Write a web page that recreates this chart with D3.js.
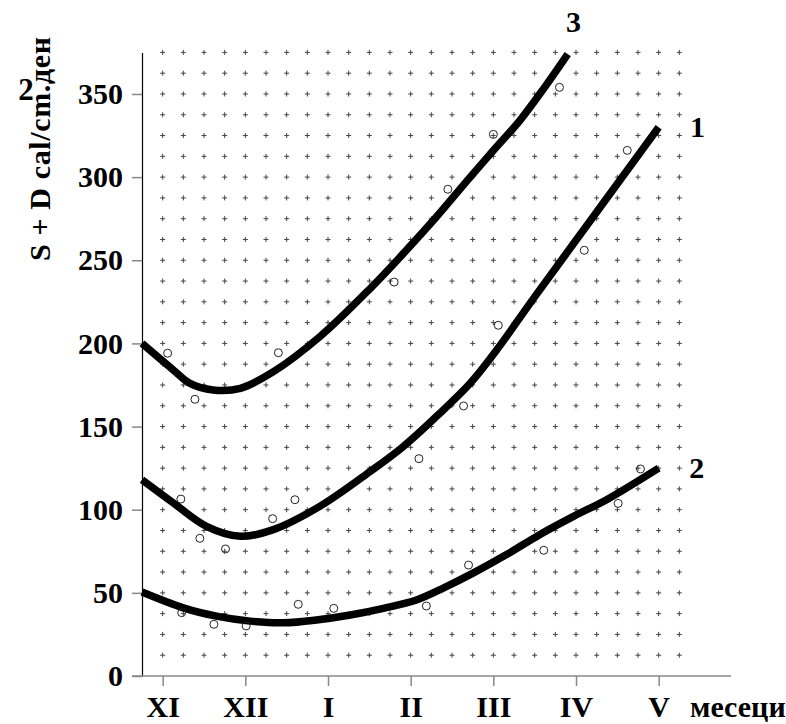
<!DOCTYPE html>
<html>
<head>
<meta charset="utf-8">
<script src="https://cdn.jsdelivr.net/npm/d3@7.9.0/dist/d3.min.js"></script>
<style>
  body { margin: 0; background: #fff; }
  svg text { font-family: 'Liberation Serif', 'Times New Roman', 'DejaVu Serif', serif !important; font-weight: bold; fill: #000; }
</style>
</head>
<body>
<div id="chart"></div>
<script>
const months = ['XI', 'XII', 'I', 'II', 'III', 'IV', 'V'];
const yTicks = [0, 50, 100, 150, 200, 250, 300, 350];

// smoothed curves, [month index, value]
const curve1 = [[-0.25, 118], [0.13, 104], [0.53, 90], [0.94, 84], [1.34, 88], [1.9, 102], [2.51, 123],
  [2.91, 138], [3.31, 156], [3.72, 176], [4.04, 196], [4.5, 228], [5.0, 262], [5.5, 296], [6.0, 330]];
const curve2 = [[-0.25, 50.5], [0.25, 41], [0.65, 36], [1.06, 33], [1.46, 32], [1.86, 33.7], [2.27, 36.7],
  [2.67, 40.7], [3.07, 45.7], [3.4, 53], [3.76, 62], [4.16, 73], [4.56, 85], [4.97, 96], [5.37, 106], [6.0, 125]];
const curve3 = [[-0.25, 200], [0.13, 184], [0.33, 176], [0.61, 172], [0.94, 173], [1.34, 183], [1.9, 204],
  [2.51, 233], [2.91, 254], [3.31, 276], [3.72, 300], [4.0, 316], [4.32, 334], [4.62, 354], [4.9, 374]];

// observed points
const obs1 = [[0.22, 106.4], [0.45, 82.8], [0.76, 76.4], [1.33, 94.6], [1.6, 106], [3.1, 130.7],
  [3.64, 162.4], [4.06, 210.9], [5.1, 256], [5.62, 316.1]];
const obs2 = [[0.23, 38.1], [0.62, 31.1], [1.01, 30.1], [1.64, 43.1], [2.07, 40.7], [3.19, 42.1],
  [3.7, 66.7], [4.61, 75.6], [5.51, 103.8], [5.78, 124.5]];
const obs3 = [[0.06, 194.1], [0.39, 166.4], [1.4, 194.4], [2.8, 236.9], [3.45, 292.7], [4.0, 325.7], [4.8, 354]];

const curveLabels = ['1', '2', '3'];

const width = 786, height = 724;
const svg = d3.select('#chart').append('svg')
  .attr('width', width).attr('height', height)
  .attr('viewBox', `0 0 ${width} ${height}`);

const x = d3.scaleLinear().domain([-0.25, 6.875]).range([142, 731]);
const y = d3.scaleLinear().domain([0, 375]).range([676, 52.4]);

// dotted grid of small crosses
const gridX = d3.range(0, 6.26, 0.25);
const gridY = d3.range(12.5, 375.1, 12.5);
const crosses = gridX.flatMap(gx => gridY.map(gy => [gx, gy]));
svg.append('g')
  .selectAll('path')
  .data(crosses)
  .join('path')
  .attr('d', d => {
    const cx = x(d[0]), cy = y(d[1]);
    return `M${cx - 2.5},${cy}H${cx + 2.5}M${cx},${cy - 2.5}V${cy + 2.5}`;
  })
  .attr('stroke', '#444')
  .attr('stroke-width', 1);

// axes
const yAxis = svg.append('g')
  .attr('transform', `translate(${x(-0.25)},0)`)
  .call(d3.axisLeft(y).tickValues(yTicks).tickSize(10).tickSizeOuter(0).tickPadding(9));
yAxis.select('.domain').attr('stroke', '#000').attr('stroke-width', 1.2);
yAxis.selectAll('.tick line').attr('stroke', '#888').attr('stroke-width', 1.5);
yAxis.selectAll('.tick text').attr('font-size', 30);

const xAxis = svg.append('g')
  .attr('transform', `translate(0,${y(0)})`)
  .call(d3.axisBottom(x).tickValues(d3.range(months.length)).tickFormat(i => months[i]).tickSize(10).tickSizeOuter(0));
xAxis.select('.domain').remove();
xAxis.selectAll('.tick line').attr('stroke', '#888').attr('stroke-width', 1.5);
xAxis.selectAll('.tick text')
  .attr('y', 41).attr('dy', 0)
  .attr('font-size', 30);
xAxis.append('line')
  .attr('x1', x(-0.25) - 10).attr('x2', x(6.875))
  .attr('stroke', '#888').attr('stroke-width', 1.5);

xAxis.append('text')
  .attr('x', 690).attr('y', 41)
  .attr('text-anchor', 'start')
  .attr('font-size', 30)
  .text('месеци');

// y axis title, superscript 2 stands upright above it
svg.append('text')
  .attr('transform', 'translate(50,261) rotate(-90)')
  .attr('font-size', 30)
  .attr('textLength', 224)
  .attr('lengthAdjust', 'spacing')
  .text('S + D cal/cm.ден');
svg.append('text')
  .attr('x', 26).attr('y', 100)
  .attr('text-anchor', 'middle')
  .attr('font-size', 31)
  .text('2');

// curves
const line = d3.line()
  .x(d => x(d[0]))
  .y(d => y(d[1]))
  .curve(d3.curveCatmullRom);

[curve1, curve2, curve3].forEach(c => {
  svg.append('path')
    .attr('d', line(c))
    .attr('fill', 'none')
    .attr('stroke', '#000')
    .attr('stroke-width', 7.5);
});

// observation circles
[obs1, obs2, obs3].forEach(o => {
  svg.append('g')
    .selectAll('circle')
    .data(o)
    .join('circle')
    .attr('cx', d => x(d[0]))
    .attr('cy', d => y(d[1]))
    .attr('r', 4)
    .attr('fill', 'none')
    .attr('stroke', '#222')
    .attr('stroke-width', 1);
});

// curve numbers
const labelPos = [[6.47, 324], [6.46, 119], [4.97, 387]];
svg.append('g')
  .selectAll('text')
  .data(curveLabels)
  .join('text')
  .attr('x', (d, i) => x(labelPos[i][0]))
  .attr('y', (d, i) => y(labelPos[i][1]))
  .attr('text-anchor', 'middle')
  .attr('font-size', 30)
  .text(d => d);
</script>
</body>
</html>
